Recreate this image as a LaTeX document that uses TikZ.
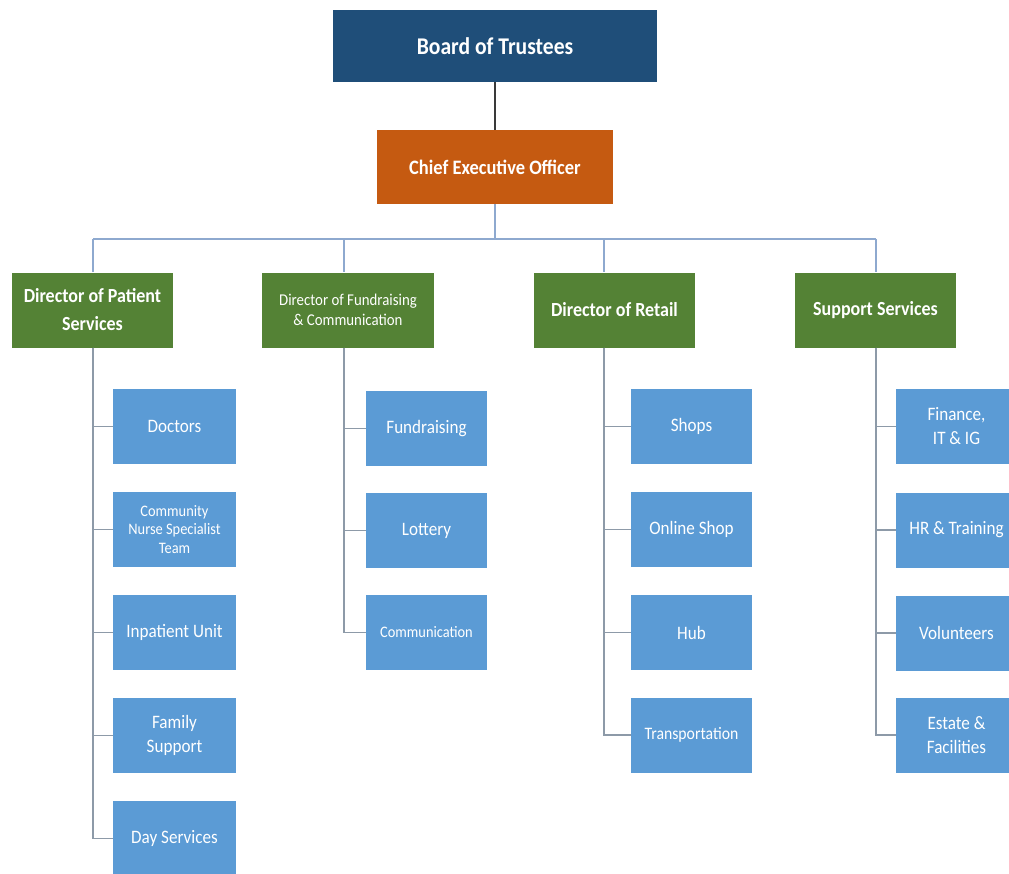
\documentclass[tikz,border=0pt]{standalone}
\usepackage{fontspec}
\setmainfont{Carlito}[FakeStretch=0.9]
\definecolor{boardblue}{HTML}{1F4E79}
\definecolor{ceoorange}{HTML}{C55A11}
\definecolor{dirgreen}{HTML}{548235}
\definecolor{unitblue}{HTML}{5B9BD5}
\definecolor{buscol}{HTML}{8EA9CF}
\definecolor{subcol}{HTML}{8D9AA8}
\definecolor{topcol}{HTML}{3A3A3A}
\tikzset{
  basebox/.style={rectangle, inner sep=0pt, text=white, align=center},
  boardbox/.style={basebox, fill=boardblue, minimum width=324pt, minimum height=72pt, font=\bfseries\fontsize{24}{28}\selectfont},
  ceobox/.style={basebox, fill=ceoorange, minimum width=236pt, minimum height=74pt, font=\bfseries\fontsize{20.5}{25}\selectfont},
  dirbox/.style={basebox, fill=dirgreen, minimum height=75pt, font=\bfseries\fontsize{20}{28}\selectfont},
  unitbox/.style={basebox, fill=unitblue, minimum width=121pt, minimum height=75pt, font=\fontsize{19}{24}\selectfont},
  toplink/.style={draw=topcol, line width=1.2pt},
  buslink/.style={draw=buscol, line width=1.3pt},
  sublink/.style={draw=subcol, line width=1.3pt}
}
\begin{document}
\begin{tikzpicture}[x=1pt,y=-1pt]
\useasboundingbox[fill=white] (0,0) rectangle (1009,873);
% top
\node[boardbox] (board) at (495,46) {Board of Trustees};
\node[ceobox] (ceo) at (495,167) {Chief Executive Officer};
% directors
\node[dirbox, minimum width=161pt] (dps) at (92.5,310) {Director of Patient\\Services};
\node[dirbox, minimum width=172pt, font=\fontsize{16.5}{20}\selectfont] (dfc) at (348,310) {Director of Fundraising\\\& Communication};
\node[dirbox, minimum width=161pt] (dr) at (614.5,310) {Director of Retail};
\node[dirbox, minimum width=161pt] (ss) at (875.5,310) {Support Services};
% patient services units
\node[unitbox, minimum width=123pt] (doc) at (174.5,426.5) {Doctors};
\node[unitbox, minimum width=123pt, font=\fontsize{16}{18.5}\selectfont] (cns) at (174.5,529.5) {Community\\Nurse Specialist\\Team};
\node[unitbox, minimum width=123pt] (ipu) at (174.5,632.5) {Inpatient Unit};
\node[unitbox, minimum width=123pt] (fam) at (174.5,735.5) {Family\\Support};
\node[unitbox, minimum width=123pt] (day) at (174.5,838.5) {Day Services};
% fundraising units
\node[unitbox] (fund) at (426.5,428.5) {Fundraising};
\node[unitbox] (lot) at (426.5,530.5) {Lottery};
\node[unitbox, font=\fontsize{16}{20}\selectfont] (comm) at (426.5,632.5) {Communication};
% retail units
\node[unitbox] (shop) at (691.5,426.5) {Shops};
\node[unitbox] (online) at (691.5,529.5) {Online Shop};
\node[unitbox] (hub) at (691.5,632.5) {Hub};
\node[unitbox, font=\fontsize{17.5}{22}\selectfont] (trans) at (691.5,735) {Transportation};
% support units
\node[unitbox] (fin) at (956.5,426.5) {Finance,\\IT \& IG};
\node[unitbox] (hr) at (956.5,530) {HR \& Training};
\node[unitbox] (vol) at (956.5,633) {Volunteers};
\node[unitbox] (est) at (956.5,735) {Estate \&\\Facilities};
% coordinates for bus
\coordinate (b1) at (93,239);
\coordinate (b2) at (344,239);
\coordinate (b3) at (604,239);
\coordinate (b4) at (876,239);
\coordinate (bc) at (495,239);
% connectors
\draw[toplink] (board) -- (ceo);
\draw[buslink] (ceo.south) -- (bc);
\draw[buslink] (b1) -- (b4);
\draw[buslink] (b1) -- (b1 |- dps.north);
\draw[buslink] (b2) -- (b2 |- dfc.north);
\draw[buslink] (b3) -- (b3 |- dr.north);
\draw[buslink] (b4) -- (b4 |- ss.north);
% trunks
\coordinate (t1) at (b1 |- dps.south);
\coordinate (t2) at (b2 |- dfc.south);
\coordinate (t3) at (b3 |- dr.south);
\coordinate (t4) at (b4 |- ss.south);
\foreach \u in {doc,cns,ipu,fam,day} \draw[sublink] (t1) |- (\u.west);
\foreach \u in {fund,lot,comm} \draw[sublink] (t2) |- (\u.west);
\foreach \u in {shop,online,hub,trans} \draw[sublink] (t3) |- (\u.west);
\foreach \u in {fin,hr,vol,est} \draw[sublink] (t4) |- (\u.west);
\end{tikzpicture}
\end{document}
